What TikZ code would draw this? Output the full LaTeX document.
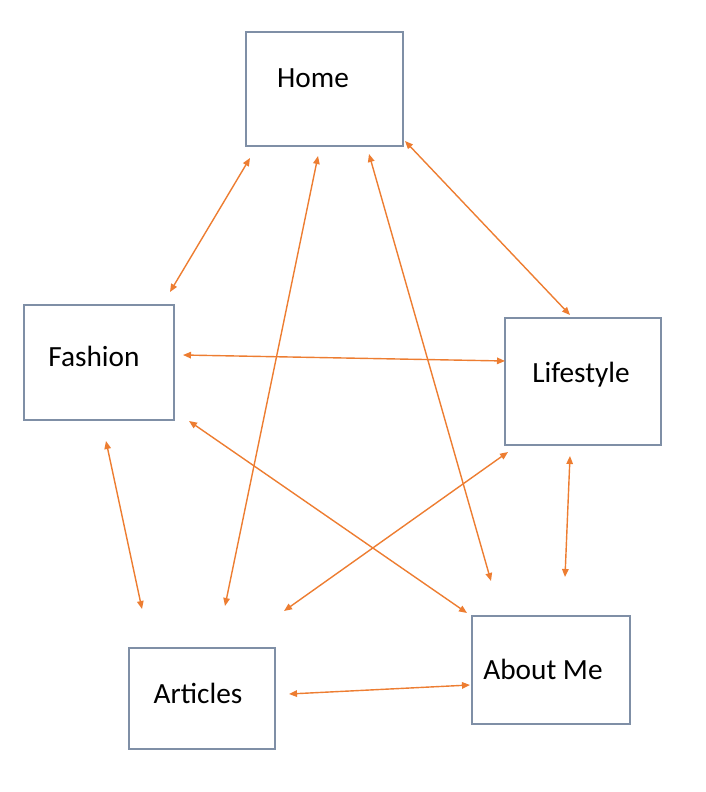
\documentclass[tikz,border=0pt]{standalone}
\usepackage{fontspec}
\setmainfont{Carlito}
\usetikzlibrary{arrows.meta}
\definecolor{boxc}{HTML}{7F8FA6}
\definecolor{arrc}{HTML}{ED7D31}
\begin{document}
\begin{tikzpicture}[x=1pt,y=-1pt,
  pagebox/.style={draw=boxc,line width=2.7pt,fill=white,inner sep=0pt},
  lbl/.style={font=\fontsize{29.3}{33}\selectfont,inner sep=0pt,anchor=center},
  link/.style={draw=arrc,line width=1.4pt,{Triangle[length=8pt,width=6.5pt]}-{Triangle[length=8pt,width=6.5pt]}}]
\useasboundingbox (0,0) rectangle (706,792);
% boxes
\node[pagebox,minimum width=157pt,minimum height=114pt] (home) at (324.5,89) {};
\node[pagebox,minimum width=150pt,minimum height=115pt] (fashion) at (99,362.5) {};
\node[pagebox,minimum width=156pt,minimum height=127pt] (lifestyle) at (583,381.5) {};
\node[pagebox,minimum width=146pt,minimum height=101pt] (articles) at (202,698.5) {};
\node[pagebox,minimum width=158pt,minimum height=108pt] (about) at (551,670) {};
% labels
\node[lbl] (thome) at (313,78) {Home};
\node[lbl] (tfashion) at (94,356) {Fashion};
\node[lbl] (tlifestyle) at (581,375) {Lifestyle};
\node[lbl] (tarticles) at (198,693) {Articles};
\node[lbl] (tabout) at (543,669) {About Me};
% connector end points
\coordinate (a1) at (250,158); \coordinate (b1) at (170,292);
\coordinate (a2) at (318,156); \coordinate (b2) at (225,606);
\coordinate (a3) at (369,154); \coordinate (b3) at (491,581);
\coordinate (a4) at (405,141); \coordinate (b4) at (570,315);
\coordinate (a5) at (183,355); \coordinate (b5) at (505,361);
\coordinate (a6) at (106,441); \coordinate (b6) at (142,609);
\coordinate (a7) at (189,421); \coordinate (b7) at (467,613);
\coordinate (a8) at (508,452); \coordinate (b8) at (284,611);
\coordinate (a9) at (570,456); \coordinate (b9) at (565,577);
\coordinate (a10) at (289,694); \coordinate (b10) at (470,685);
\foreach \i in {1,...,10} { \draw[link] (a\i) -- (b\i); }
\end{tikzpicture}
\end{document}
